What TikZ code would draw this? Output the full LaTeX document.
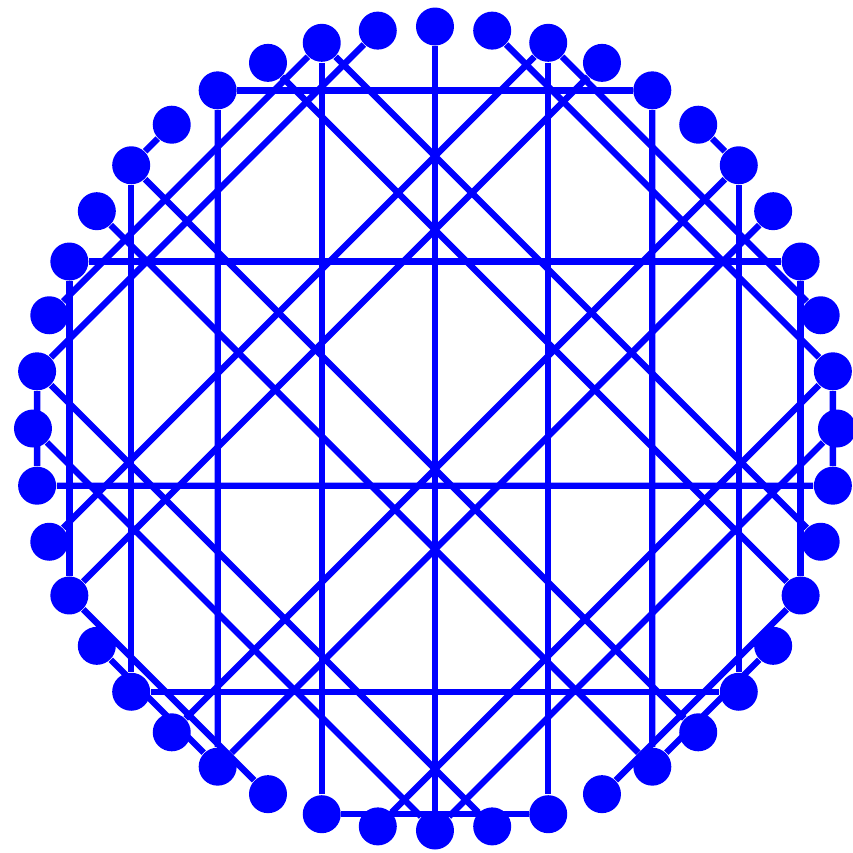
\documentclass[tikz,border=0pt]{standalone}
\begin{document}
\begin{tikzpicture}[
        % Punkte und Sehnen
        vertex/.style={circle, fill=blue, inner sep=0pt, minimum size=0.38cm},
        chord/.style={draw=blue, line width=1.8pt}
    ]
    \useasboundingbox (-4.35,-4.245) rectangle (4.18,4.285);

    % ==========================================
    % 1. PUNKTE AUF DEM KREIS
    % ==========================================
    \foreach \k in {0,...,43}
        \node[vertex] (v\k) at ({90-\k*360/44}:4.02) {};

    % ==========================================
    % 2. SEHNEN
    % ==========================================

    % --- senkrecht ---
    \foreach \a/\b in {0/22, 2/20, 4/18, 6/16, 8/14, 10/12, 24/42, 26/40, 28/38, 30/36, 32/34}
        \draw[chord] (v\a) -- (v\b);

    % --- waagerecht ---
    \foreach \a/\b in {4/40, 8/36, 12/32, 16/28, 20/24}
        \draw[chord] (v\a) -- (v\b);

    % --- diagonal (nach rechts oben) ---
    \foreach \a/\b in {2/31, 6/27, 10/23, 14/19, 18/15, 22/11, 26/7, 30/3, 34/43, 38/39, 42/35}
        \draw[chord] (v\a) -- (v\b);

    % --- diagonal (nach rechts unten) ---
    \foreach \a/\b in {1/10, 5/6, 9/2, 13/42, 17/38, 21/34, 25/30, 29/26, 33/22, 37/18, 41/14}
        \draw[chord] (v\a) -- (v\b);

\end{tikzpicture}
\end{document}
